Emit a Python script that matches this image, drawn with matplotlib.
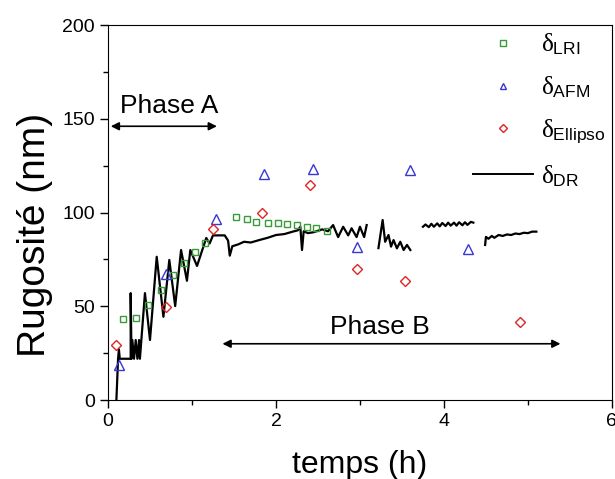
import numpy as np
import matplotlib
matplotlib.use('Agg')
import matplotlib.pyplot as plt
from matplotlib.lines import Line2D

plt.rcParams['font.family'] = ['Liberation Sans', 'DejaVu Sans']
plt.rcParams['mathtext.fontset'] = 'custom'
plt.rcParams['mathtext.rm'] = 'Liberation Sans'
plt.rcParams['mathtext.it'] = 'Liberation Serif'

# delta LRI (green squares)
t_lri = [0.18, 0.33, 0.48, 0.63, 0.77, 0.90, 1.03, 1.16, 1.53, 1.65, 1.76, 1.90,
         2.02, 2.13, 2.25, 2.37, 2.48, 2.61]
r_lri = [43.0, 43.6, 50.5, 58.7, 66.5, 73.2, 78.9, 83.9, 97.4, 96.4, 94.9, 94.6,
         94.6, 93.9, 93.2, 92.4, 91.7, 90.0]

# delta AFM (blue triangles)
t_afm = [0.13, 0.69, 1.29, 1.86, 2.44, 2.97, 3.59, 4.29]
r_afm = [18.8, 67.2, 96.4, 120.5, 123.0, 81.8, 122.5, 80.4]

# delta Ellipso (red diamonds)
t_ell = [0.10, 0.69, 1.25, 1.83, 2.40, 2.97, 3.54, 4.90]
r_ell = [29.5, 49.4, 91.4, 99.9, 114.8, 69.7, 63.6, 41.6]

# delta DR (black line), four pieces separated by gaps
t_dr1 = [0.10, 0.12, 0.13, 0.14, 0.27, 0.27, 0.28, 0.29, 0.31, 0.33, 0.35, 0.37,
         0.38, 0.44, 0.50, 0.58, 0.66, 0.73, 0.80, 0.87, 0.94, 0.98, 1.06, 1.17,
         1.21, 1.25, 1.39, 1.43, 1.45, 1.48, 1.55, 1.62, 1.70, 1.80, 1.90, 2.00,
         2.10, 2.20, 2.26, 2.29, 2.31, 2.33, 2.38, 2.45, 2.55, 2.62, 2.68, 2.74,
         2.80, 2.86, 2.90, 2.96, 3.00, 3.05, 3.08]
r_dr1 = [0.0, 22.0, 27.0, 22.0, 22.0, 57.0, 22.0, 32.0, 22.0, 32.0, 22.0, 32.0,
         22.0, 57.0, 32.0, 76.4, 44.4, 74.7, 50.1, 80.0, 63.6, 80.0, 71.5, 86.4,
         83.5, 87.8, 87.8, 85.0, 77.0, 82.0, 83.0, 84.4, 84.0, 85.3, 86.5, 88.0,
         88.5, 89.8, 90.5, 92.4, 80.0, 90.0, 89.0, 89.5, 91.0, 90.0, 93.3, 86.9,
         92.4, 87.8, 91.6, 86.9, 92.4, 86.9, 93.3]
t_dr2 = [3.22, 3.27, 3.30, 3.34, 3.37, 3.40, 3.44, 3.48, 3.52, 3.56, 3.60]
r_dr2 = [81.0, 96.0, 84.4, 88.0, 81.8, 85.3, 80.9, 84.4, 80.0, 82.7, 80.0]
t_dr3 = [3.75, 3.78, 3.82, 3.85, 3.88, 3.92, 3.95, 3.98, 4.02, 4.05, 4.08, 4.12,
         4.15, 4.18, 4.22, 4.25, 4.28, 4.32, 4.35]
r_dr3 = [92.4, 93.6, 92.2, 94.0, 92.4, 94.2, 92.6, 94.4, 92.8, 94.6, 93.0, 94.6,
         93.0, 94.8, 93.2, 94.8, 93.4, 95.0, 94.6]
t_dr4 = [4.49, 4.50, 4.53, 4.57, 4.60, 4.65, 4.70, 4.75, 4.80, 4.85, 4.90, 4.95,
         5.00, 5.05, 5.10]
r_dr4 = [82.7, 87.0, 86.0, 87.5, 86.5, 88.0, 87.5, 88.3, 88.0, 88.8, 88.5, 89.2,
         89.0, 89.8, 89.8]

fig = plt.figure(figsize=(6.15, 4.79), dpi=100)
ax = fig.add_axes([0.1756, 0.1649, 0.8194, 0.7829])

for tt, rr in [(t_dr1, r_dr1), (t_dr2, r_dr2), (t_dr3, r_dr3), (t_dr4, r_dr4)]:
    ax.plot(tt, rr, color='black', lw=1.6)

ax.plot(t_lri, r_lri, ls='none', marker='s', ms=5, mfc='none', mec='#3a9a3a', mew=1.0)
ax.plot(t_afm, r_afm, ls='none', marker='^', ms=7, mfc='none', mec='#3838d0', mew=1.0)
ax.plot(t_ell, r_ell, ls='none', marker='D', ms=5.5, mfc='none', mec='#e02424', mew=1.0)

# phase arrows
ax.annotate('', xy=(0.0, 146), xytext=(1.33, 146),
            arrowprops=dict(arrowstyle='<|-|>', color='black', lw=1.2, mutation_scale=12))
ax.text(0.73, 157, 'Phase A', fontsize=19, ha='center', va='center')
ax.annotate('', xy=(1.33, 30), xytext=(5.42, 30),
            arrowprops=dict(arrowstyle='<|-|>', color='black', lw=1.2, mutation_scale=12))
ax.text(3.24, 39, 'Phase B', fontsize=19, ha='center', va='center')

ax.set_xlim(0, 6)
ax.set_ylim(0, 200)
ax.set_xticks([0, 2, 4, 6])
ax.set_xticks([1, 3, 5], minor=True)
ax.set_yticks([0, 50, 100, 150, 200])
ax.set_yticks([25, 75, 125, 175], minor=True)
ax.tick_params(which='major', direction='out', length=6, width=1, labelsize=14)
ax.tick_params(which='minor', direction='out', length=3.5, width=1)
ax.set_xlabel('temps (h)', fontsize=23, labelpad=14)
ax.set_ylabel('Rugosité (nm)', fontsize=28)
ax.yaxis.set_label_coords(-0.11, 0.44)

handles = [
    Line2D([], [], ls='none', marker='s', ms=4, mfc='none', mec='#3a9a3a'),
    Line2D([], [], ls='none', marker='^', ms=5, mfc='none', mec='#3838d0'),
    Line2D([], [], ls='none', marker='D', ms=4, mfc='none', mec='#e02424'),
    Line2D([], [], color='black', lw=1.4),
]
labels = [r'$\delta_{\mathrm{LRI}}$', r'$\delta_{\mathrm{AFM}}$',
          r'$\delta_{\mathrm{Ellipso}}$', r'$\delta_{\mathrm{DR}}$']
ax.legend(handles, labels, loc='upper left', bbox_to_anchor=(0.69, 1.03),
          frameon=False, fontsize=18, handlelength=2.4, handletextpad=0.3,
          labelspacing=0.7, borderpad=0.2)

fig.savefig('out.png', dpi=100)
